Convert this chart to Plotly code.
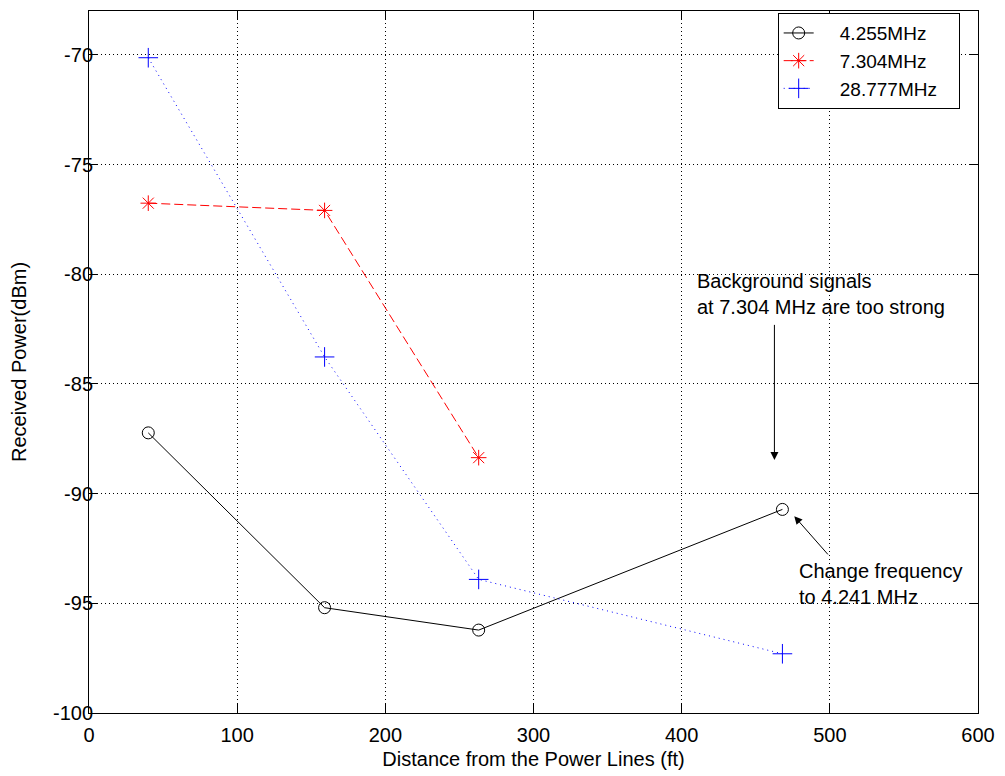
import plotly.graph_objects as go

# Data
dist = [40, 159, 263, 468]
p_4255 = [-87.23, -95.2, -96.22, -90.72]
dist_7304 = [40, 159, 263]
p_7304 = [-76.76, -77.09, -88.36]
p_28777 = [-70.13, -83.77, -93.91, -97.3]
names = ["4.255MHz", "7.304MHz", "28.777MHz"]

x_ticks = [0, 100, 200, 300, 400, 500, 600]
y_ticks = [-100, -95, -90, -85, -80, -75, -70]
y_ticktext = ["-100", "-95", "-90", "-85", "-80", "-75", "-70"]

FONT = "Arial, Liberation Sans, Helvetica, sans-serif"
NB = "\u00a0"


def legend_name(s):
    return NB * 4 + s + NB * 3


fig = go.Figure()
fig.add_trace(go.Scatter(
    x=dist, y=p_4255, name=legend_name(names[0]), mode="lines+markers",
    line=dict(color="black", width=1),
    marker=dict(symbol="circle-open", size=12, color="black", line=dict(width=1, color="black")),
))
fig.add_trace(go.Scatter(
    x=dist_7304, y=p_7304, name=legend_name(names[1]), mode="lines+markers",
    line=dict(color="red", width=1, dash="9px,4px"),
    marker=dict(symbol="asterisk-open", size=13, color="red", line=dict(width=1, color="red")),
))
fig.add_trace(go.Scatter(
    x=dist, y=p_28777, name=legend_name(names[2]), mode="lines+markers",
    line=dict(color="blue", width=1, dash="1px,4px"),
    marker=dict(symbol="cross-thin-open", size=14, color="blue", line=dict(width=1, color="blue")),
))

# Annotations: text blocks
fig.add_annotation(x=408.8, y=-80.89, xref="x", yref="y",
                   text="Background signals<br>at 7.304 MHz are too strong",
                   showarrow=False, xanchor="left", yanchor="middle", align="left",
                   font=dict(family=FONT, size=20, color="black"))
fig.add_annotation(x=477.5, y=-94.12, xref="x", yref="y",
                   text="Change frequency<br>to 4.241 MHz",
                   showarrow=False, xanchor="left", yanchor="middle", align="left",
                   font=dict(family=FONT, size=20, color="black"))
# Arrows
fig.add_annotation(x=462.6, y=-88.47, ax=462.6, ay=-82.24, xref="x", yref="y",
                   axref="x", ayref="y", text="", showarrow=True,
                   arrowhead=2, arrowsize=1.6, arrowwidth=1, arrowcolor="black")
fig.add_annotation(x=476, y=-91.03, ax=499.6, ay=-92.84, xref="x", yref="y",
                   axref="x", ayref="y", text="", showarrow=True,
                   arrowhead=2, arrowsize=1.6, arrowwidth=1, arrowcolor="black")

axis_common = dict(
    showline=True, linecolor="black", linewidth=1, mirror="ticks",
    ticks="inside", ticklen=9, tickcolor="black", tickwidth=1,
    showgrid=True, gridcolor="black", gridwidth=1, griddash="1px,3px",
    zeroline=False, tickfont=dict(family=FONT, size=20, color="black"),
)

fig.update_xaxes(range=[0, 600], tickvals=x_ticks, ticklabelstandoff=4,
                 title=dict(text="Distance from the Power Lines (ft)", standoff=6,
                            font=dict(family=FONT, size=20, color="black")),
                 **axis_common)
fig.update_yaxes(range=[-100, -68], tickvals=y_ticks, ticktext=y_ticktext,
                 ticklabelstandoff=-9,
                 title=dict(text="Received Power(dBm)", standoff=20,
                            font=dict(family=FONT, size=20, color="black")),
                 **axis_common)

fig.update_layout(
    width=1005, height=776,
    margin=dict(l=89, r=24, t=10, b=60),
    paper_bgcolor="white", plot_bgcolor="white",
    font=dict(family=FONT, size=20, color="black"),
    showlegend=True,
    legend=dict(x=(780 - 89) / 892, y=0.997, xanchor="left", yanchor="top",
                bgcolor="white", bordercolor="black", borderwidth=1,
                font=dict(family=FONT, size=19, color="black"),
                tracegroupgap=0),
)

fig.write_html("out.html")
